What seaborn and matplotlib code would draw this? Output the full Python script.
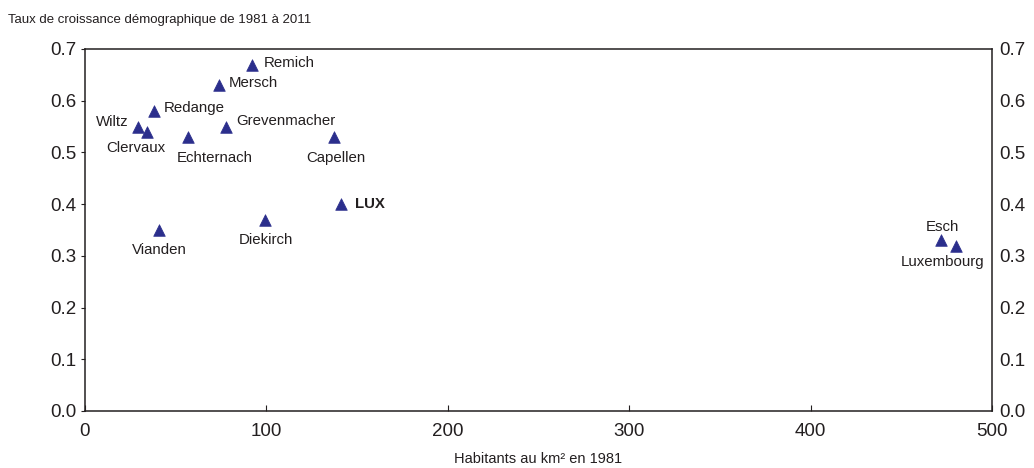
import matplotlib.pyplot as plt
import seaborn as sns
import pandas as pd

# Data
cantons = ['Remich', 'Mersch', 'Redange', 'Wiltz', 'Clervaux', 'Echternach',
           'Grevenmacher', 'Capellen', 'LUX', 'Diekirch', 'Vianden', 'Esch',
           'Luxembourg']
density_1981 = [92, 74, 38, 29, 34, 57, 78, 137, 141, 99, 41, 472, 480]
growth_rate = [0.67, 0.63, 0.58, 0.55, 0.54, 0.53, 0.55, 0.53, 0.40, 0.37,
               0.35, 0.33, 0.32]

# label placement (pixel offsets from the marker, horizontal alignment)
label_pos = {
    'Remich': (12, 2, 'left'),
    'Mersch': (10, 2, 'left'),
    'Redange': (10, 3, 'left'),
    'Wiltz': (-9, 5, 'right'),
    'Clervaux': (-11, -16, 'center'),
    'Echternach': (-12, -21, 'left'),
    'Grevenmacher': (10, 6, 'left'),
    'Capellen': (2, -21, 'center'),
    'LUX': (14, 0, 'left'),
    'Diekirch': (1, -20, 'center'),
    'Vianden': (0, -20, 'center'),
    'Esch': (1, 13, 'center'),
    'Luxembourg': (-13, -16, 'center'),
}

df = pd.DataFrame({'canton': cantons, 'x': density_1981, 'y': growth_rate})

sns.set_theme(style='white')
plt.rcParams['font.family'] = ['Liberation Sans', 'DejaVu Sans']

fig = plt.figure(figsize=(10.34, 4.68), dpi=100)
ax = fig.add_axes([0.0822, 0.1218, 0.8772, 0.7735])

sns.scatterplot(data=df, x='x', y='y', marker='^', s=70, color='#2B2E8C',
                edgecolor='#2B2E8C', linewidth=0.5, ax=ax, zorder=3)

for name, xv, yv in zip(cantons, density_1981, growth_rate):
    dx, dy, ha = label_pos[name]
    ax.annotate(name, (xv, yv), xytext=(dx, dy), textcoords='offset pixels',
                ha=ha, va='center', fontsize=10.8, color='#231F20',
                fontweight='bold' if name == 'LUX' else 'normal')

ax.set_xlim(0, 500)
ax.set_ylim(0, 0.7)
ax.set_xticks([0, 100, 200, 300, 400, 500])
ax.set_yticks([0.0, 0.1, 0.2, 0.3, 0.4, 0.5, 0.6, 0.7])
ax.set_yticklabels([f'{v:.1f}' for v in ax.get_yticks()])
ax.set_xlabel('Habitants au km² en 1981', fontsize=10.5, color='#231F20', labelpad=8)
ax.set_ylabel('')
ax.tick_params(axis='x', direction='in', length=4, width=0.8, labelsize=13.5,
               pad=9, colors='#231F20', bottom=True)
ax.tick_params(axis='y', direction='out', length=3, width=0.8, labelsize=13.5,
               pad=3, colors='#231F20', left=True)
for sp in ax.spines.values():
    sp.set_color('#231F20')
    sp.set_linewidth(1.1)

ax2 = ax.twinx()
ax2.set_ylim(0, 0.7)
ax2.set_yticks([0.0, 0.1, 0.2, 0.3, 0.4, 0.5, 0.6, 0.7])
ax2.set_yticklabels([f'{v:.1f}' for v in ax2.get_yticks()])
ax2.tick_params(axis='y', length=0, labelsize=13.5, pad=5, colors='#231F20')
for sp in ax2.spines.values():
    sp.set_visible(False)

fig.text(0.008, 0.957, 'Taux de croissance démographique de 1981 à 2011',
         fontsize=9.5, color='#231F20', ha='left', va='center')

fig.savefig('out.png', dpi=100)
